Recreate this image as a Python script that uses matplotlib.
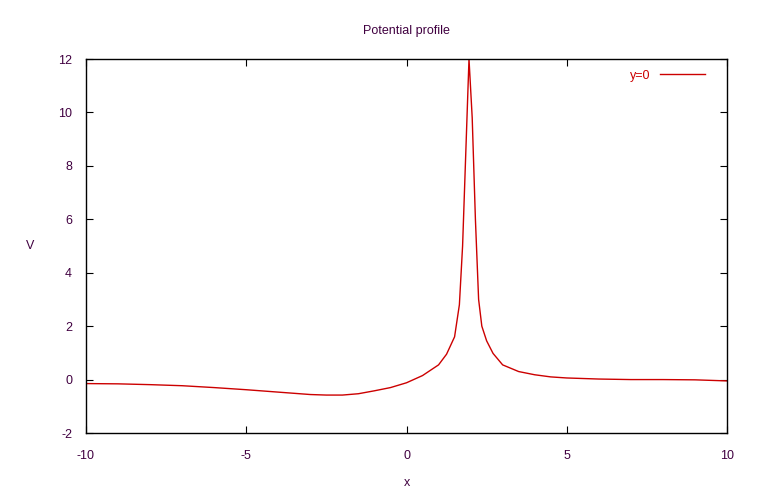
import numpy as np
import matplotlib.pyplot as plt

plt.rcParams['font.family'] = ['Liberation Sans', 'DejaVu Sans']
plt.rcParams['axes.unicode_minus'] = False

# potential along y=0
x = [-10, -9, -8, -7, -6, -5, -4, -3, -2.5, -2, -1.5, -1, -0.5, 0, 0.5,
     1, 1.25, 1.5, 1.65, 1.75, 1.85, 1.95, 2.05, 2.15, 2.25, 2.35, 2.5,
     2.7, 3, 3.5, 4, 4.5, 5, 6, 7, 8, 9, 10]
V = [-0.15, -0.16, -0.19, -0.23, -0.3, -0.38, -0.47, -0.56, -0.58, -0.58,
     -0.53, -0.42, -0.3, -0.12, 0.15, 0.55, 0.95, 1.6, 2.8, 5.0, 8.5, 12.0,
     9.8, 6.0, 3.0, 2.0, 1.45, 0.98, 0.55, 0.3, 0.18, 0.1, 0.06, 0.02, 0.0,
     0.0, -0.01, -0.05]

xticks = [-10, -5, 0, 5, 10]
yticks = [-2, 0, 2, 4, 6, 8, 10, 12]

txt = '#400040'
line_color = '#cc0000'

fig = plt.figure(figsize=(7.6, 4.93), dpi=100)
ax = fig.add_axes([86/760, 60/493, 641/760, 374/493])

ax.plot(x, V, color=line_color, lw=1.0, label='y=0')

ax.set_xlim(-10, 10)
ax.set_ylim(-2, 12)
ax.set_xticks(xticks)
ax.set_yticks(yticks)
ax.tick_params(direction='in', length=5, top=True, right=True,
               labelsize=9, labelcolor=txt)
ax.tick_params(axis='x', pad=12)
ax.tick_params(axis='y', pad=10)
for s in ax.spines.values():
    s.set_linewidth(1.0)

ax.set_title('Potential profile', fontsize=9, color=txt, pad=18)
ax.set_xlabel('x', fontsize=9, color=txt, labelpad=11)
ax.set_ylabel('V', fontsize=9, color=txt, rotation=0, labelpad=20, va='center')

leg = ax.legend(loc='upper right', frameon=False, markerfirst=False,
                fontsize=9, handlelength=3.6, borderaxespad=0.3,
                bbox_to_anchor=(0.98, 0.995))
for t in leg.get_texts():
    t.set_color(line_color)

fig.savefig('out.png', dpi=100)
